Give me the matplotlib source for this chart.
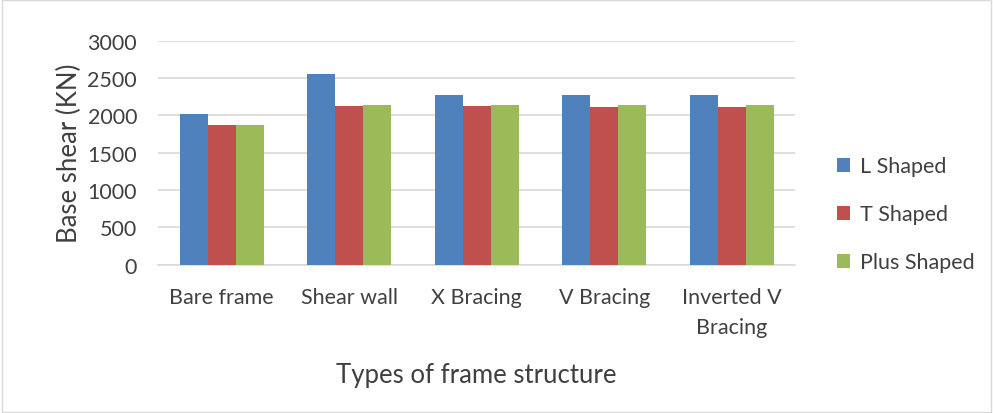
import numpy as np
import matplotlib.pyplot as plt
from matplotlib.patches import Rectangle

plt.rcParams['font.family'] = ['Lato', 'DejaVu Sans']

categories = ['Bare frame', 'Shear wall', 'X Bracing', 'V Bracing', 'Inverted V\nBracing']
series_names = ['L Shaped', 'T Shaped', 'Plus Shaped']
l_shaped = [2024, 2561, 2279, 2279, 2279]
t_shaped = [1876, 2122, 2131, 2118, 2118]
plus_shaped = [1876, 2145, 2145, 2135, 2135]
colors = ['#4F81BD', '#C0504D', '#9BBB59']

fig = plt.figure(figsize=(9.93, 4.14), dpi=100)
ax = fig.add_axes([0.159, 0.358, 0.642, 0.541])

x = np.arange(len(categories))
w = 0.22
for i, (vals, name) in enumerate(zip([l_shaped, t_shaped, plus_shaped], series_names)):
    ax.bar(x + (i - 1) * w, vals, w, color=colors[i], label=name, zorder=3)

ax.set_xlim(-0.5, len(categories) - 0.5)
ax.set_ylim(0, 3000)
ax.set_yticks(range(0, 3001, 500))
ax.yaxis.grid(True, color='#D9D9D9', linewidth=1.2, zorder=0)
for s in ['top', 'right', 'left']:
    ax.spines[s].set_visible(False)
ax.spines['bottom'].set_color('#D9D9D9')
ax.spines['bottom'].set_linewidth(1.2)
ax.tick_params(axis='both', length=0, labelsize=15.5, colors='#404040')
ax.tick_params(axis='x', pad=16)
ax.tick_params(axis='y', pad=15)
ax.set_xticks(x)
ax.set_xticklabels(categories, linespacing=1.6)

ax.set_ylabel('Base shear (KN)', fontsize=18.5, color='#404040', labelpad=4)
ax.set_xlabel('Types of frame structure', fontsize=18.5, color='#404040', labelpad=18)

ax.legend(loc='center left', bbox_to_anchor=(1.035, 0.225), frameon=False,
          fontsize=15.5, labelcolor='#404040', handlelength=0.6, handleheight=0.6,
          labelspacing=1.3, handletextpad=0.45)

fig.patches.append(Rectangle((0.002, 0.003), 0.996, 0.994, transform=fig.transFigure,
                             fill=False, edgecolor='#D9D9D9', linewidth=1))

fig.savefig('out.png', dpi=100)
